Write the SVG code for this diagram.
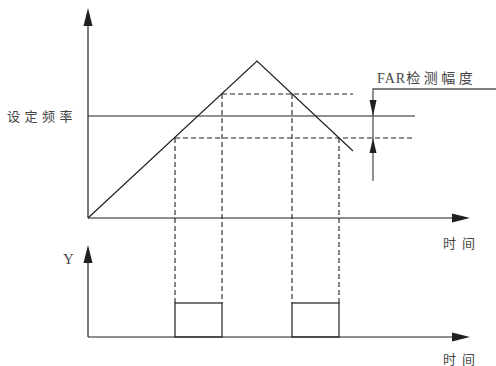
<svg xmlns="http://www.w3.org/2000/svg" width="496" height="366" viewBox="0 0 496 366">
<style>
.ln{stroke:#231f20;stroke-width:1.2;fill:none}
.ds{stroke:#231f20;stroke-width:1.1;fill:none;stroke-dasharray:5 3}
.gr{stroke:#555;stroke-width:1.3;fill:none}
.ah{fill:#231f20;stroke:none}
.tx{font-family:"Liberation Serif","Noto Sans CJK SC",serif;font-size:13px;fill:#444}
</style>
<rect width="496" height="366" fill="#fff"/>
<g id="axes">
<line class="ln" x1="88" y1="22" x2="88" y2="218"/>
<line class="ln" x1="88" y1="218" x2="456" y2="218"/>
<polygon class="ah" points="88,8 83.5,26 92.5,26"/>
<polygon class="ah" points="470,218 452,213.5 452,222.5"/>
<line class="ln" x1="88" y1="258" x2="88" y2="337"/>
<line class="ln" x1="88" y1="337" x2="456" y2="337"/>
<polygon class="ah" points="88,245 83.5,263 92.5,263"/>
<polygon class="ah" points="470,337 452,332.5 452,341.5"/>
</g>
<g id="connectors">
<polyline class="ln" points="88,218 257,61 353,151"/>
<line class="ln" x1="88" y1="116" x2="415" y2="116"/>
<line class="ds" x1="222" y1="94" x2="353" y2="94"/>
<line class="ds" x1="175" y1="138" x2="415" y2="138"/>
<line class="ds" x1="175" y1="138" x2="175" y2="303"/>
<line class="ds" x1="222" y1="94" x2="222" y2="303"/>
<line class="ds" x1="292" y1="94" x2="292" y2="303"/>
<line class="ds" x1="339" y1="138" x2="339" y2="303"/>
<polyline class="gr" points="496,89 373,89 373,181"/>
<polygon class="ah" points="373,116 369.5,100 376.5,100"/>
<polygon class="ah" points="373,138 369.5,153 376.5,153"/>
</g>
<g id="pulse1"><rect class="ln" x="175" y="303" width="47" height="34"/></g>
<g id="pulse2"><rect class="ln" x="292" y="303" width="47" height="34"/></g>
<g id="labels">
<text class="tx" x="7" y="121" letter-spacing="4.5">设定频率</text>
<text class="tx" x="377" y="83" style="font-size:14px" letter-spacing="1">FAR<tspan letter-spacing="3.5">检测幅度</tspan></text>
<text class="tx" x="443" y="248" letter-spacing="6">时间</text>
<text class="tx" x="443" y="364" letter-spacing="6">时间</text>
<text class="tx" x="63" y="264" style="font-size:15px">Y</text>
</g>
</svg>
